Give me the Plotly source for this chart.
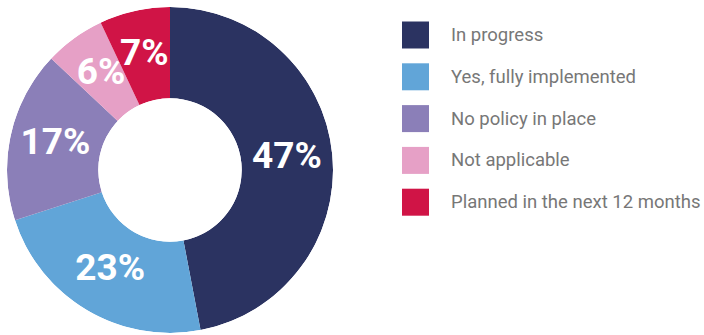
import plotly.graph_objects as go

labels = ["In progress", "Yes, fully implemented", "No policy in place",
          "Not applicable", "Planned in the next 12 months"]
values = [47, 23, 17, 6, 7]
colors = ["#2b3361", "#61a5d8", "#8b7fb8", "#e6a0c6", "#d01446"]

W, H = 704, 335

# slice geometry in degrees, clockwise from 12 o'clock
total = sum(values)
widths = [v / total * 360 for v in values]
mids, acc = [], 0
for w in widths:
    mids.append(acc + w / 2)
    acc += w

fig = go.Figure()
fig.add_trace(go.Barpolar(
    r=[1] * len(values), theta=mids, width=widths,
    marker=dict(color=colors, line=dict(width=0)),
    customdata=labels, hovertemplate="%{customdata}<extra></extra>",
    showlegend=False,
))
fig.add_trace(go.Scatterpolar(
    r=[0.5] * len(values), theta=mids, mode="text",
    text=[f"{v}%" for v in values],
    textfont=dict(family="Roboto", size=37, color="white", weight=700),
    showlegend=False, hoverinfo="skip",
))
fig.update_polars(domain=dict(x=[7 / W, 333 / W], y=[2 / H, 328 / H]),
                  hole=0.44, bgcolor="rgba(0,0,0,0)", bargap=0,
                  radialaxis=dict(range=[0, 1], visible=False),
                  angularaxis=dict(rotation=90, direction="clockwise", visible=False))

# legend drawn by hand so the swatches can be big squares
for i, (lab, col) in enumerate(zip(labels, colors)):
    yc = 35 + i * 41.8
    fig.add_shape(type="rect", xref="paper", yref="paper",
                  x0=402 / W, x1=429 / W,
                  y0=1 - (yc - 13.5) / H, y1=1 - (yc + 13.5) / H,
                  fillcolor=col, line_width=0)
    fig.add_annotation(xref="paper", yref="paper", x=449 / W, y=1 - yc / H,
                       text=lab, showarrow=False, xanchor="left", yanchor="middle",
                       font=dict(family="Roboto", size=18.5, color="#777777"))

fig.update_layout(width=W, height=H, margin=dict(l=0, r=0, t=0, b=0),
                  paper_bgcolor="white", plot_bgcolor="white")
fig.write_html("out.html", config={"displayModeBar": False},
               post_script="document.body.style.margin='0';")
